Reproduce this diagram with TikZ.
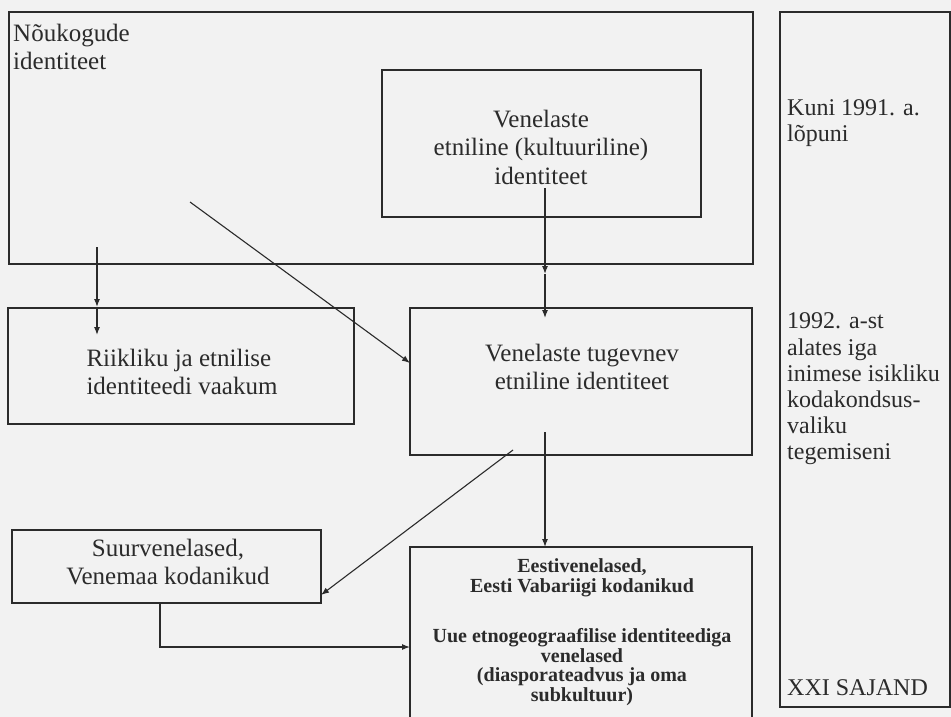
\documentclass[tikz,border=0pt]{standalone}
\usepackage{fontspec}
\setmainfont{Liberation Serif}
\usetikzlibrary{fit,arrows.meta}
\definecolor{ink}{HTML}{2B2B2B}
\definecolor{paper}{HTML}{F2F2F2}
\begin{document}
\begin{tikzpicture}[x=1pt,y=-1pt,
  box/.style={draw=ink, line width=1.4pt, inner sep=0pt},
  txt/.style={inner sep=0pt, text=ink, font=\fontsize{25}{28.5}\selectfont},
  coltxt/.style={inner sep=0pt, text=ink, font=\fontsize{24}{26.2}\selectfont},
  btxt/.style={inner sep=0pt, text=ink, font=\fontsize{20}{19.8}\selectfont\bfseries},
  arr/.style={draw=ink, line width=1.1pt, -{Latex[length=8pt,width=6pt]}},
  ln/.style={draw=ink, line width=1.1pt}
]
\useasboundingbox (0,0) rectangle (951,717);
\clip (0,0) rectangle (951,717);
\fill[paper] (0,0) rectangle (951,717);

% boxes
\node[box, fit={(9,12) (753,264)}] (A) {};
\node[box, fit={(382,70) (701,217)}] (B) {};
\node[box, fit={(780,12) (950,707)}] (R) {};
\node[box, fit={(8,308) (354,424)}] (C) {};
\node[box, fit={(410,308) (752,455)}] (D) {};
\node[box, fit={(12,530) (321,603)}] (E) {};
\node[box, fit={(410,547) (752,740)}] (F) {};

% texts
\node[txt, anchor=west, align=left] (At) at (13,47) {Nõukogude\\identiteet};
\node[txt, align=center] (Bt) at (541,147) {Venelaste\\etniline (kultuuriline)\\identiteet};
\node[coltxt, anchor=west, align=left] (R1) at (787,123) {Kuni 1991. a.\\lõpuni};
\node[coltxt, anchor=west, align=left] (R2) at (787,389) {1992. a-st\\alates iga\\inimese isikliku\\kodakondsus-\\valiku\\tegemiseni};
\node[coltxt, anchor=west] (R3) at (787,688) {XXI SAJAND};
\node[txt, align=left] (Ct) at (182,372) {Riikliku ja etnilise\\identiteedi vaakum};
\node[txt, align=center] (Dt) at (582,367) {Venelaste tugevnev\\etniline identiteet};
\node[txt, align=center] (Et) at (168,562) {Suurvenelased,\\Venemaa kodanikud};
\node[btxt, align=center] (F1) at (582,578) {Eestivenelased,\\Eesti Vabariigi kodanikud};
\node[btxt, align=center] (F2) at (582,667) {Uue etnogeograafilise identiteediga\\venelased\\(diasporateadvus ja oma\\subkultuur)};

% connector points
\coordinate (a1) at (97,247);
\coordinate (a2) at (97,307);
\coordinate (a3) at (97,335);
\coordinate (b1) at (190,202);
\coordinate (b2) at (410,363);
\coordinate (c1) at (545,188);
\coordinate (c2) at (545,274);
\coordinate (c3) at (545,318);
\coordinate (d1) at (545,432);
\coordinate (d2) at (545,547);
\coordinate (e1) at (513,450);
\coordinate (e2) at (321,595);
\coordinate (f1) at (160,603);
\coordinate (f2) at (160,647);
\coordinate (f3) at (410,647);

% connectors
\draw[arr] (a1) -- (a2);
\draw[arr] (a2) -- (a3);
\draw[arr] (b1) -- (b2);
\draw[arr] (c1) -- (c2);
\draw[arr] (c2) -- (c3);
\draw[arr] (d1) -- (d2);
\draw[arr] (e1) -- (e2);
\draw[arr] (f1) -- (f2) -- (f3);
\end{tikzpicture}
\end{document}
